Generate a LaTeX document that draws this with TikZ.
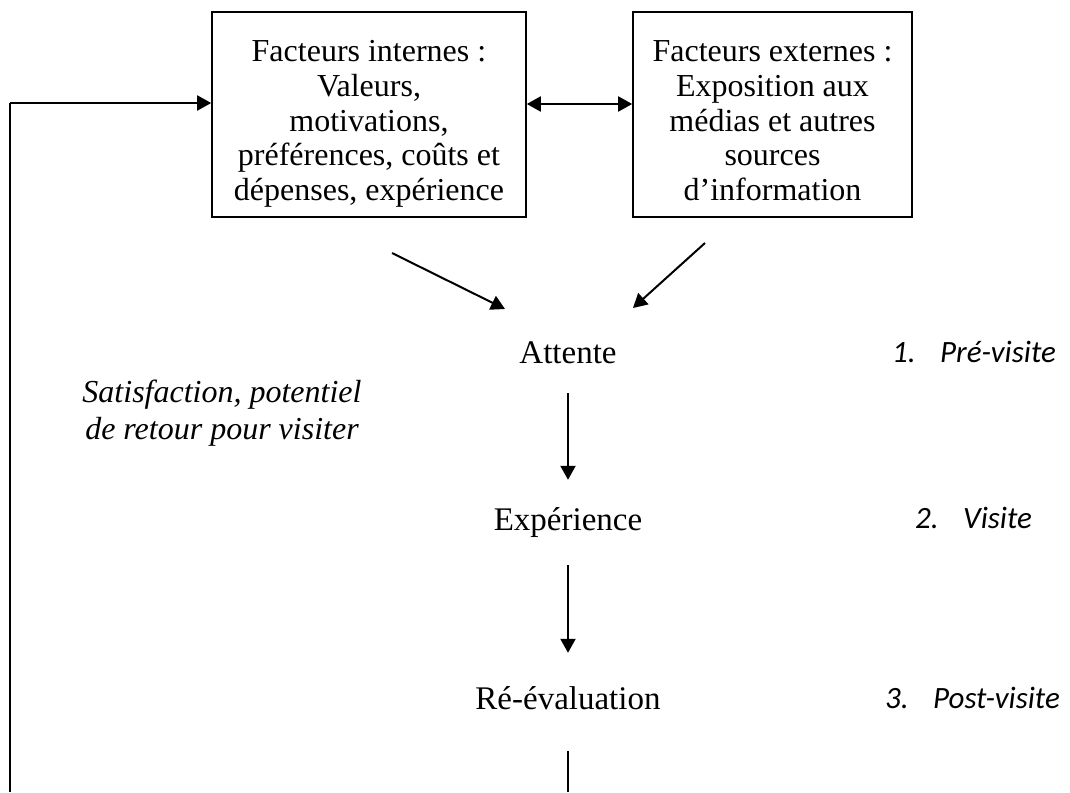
\documentclass[tikz,border=0pt]{standalone}
\usepackage{fontspec}
\setmainfont{Liberation Serif}
\newfontfamily\calib{Carlito}
\usetikzlibrary{arrows.meta}
\tikzset{
  tip/.tip={Triangle[length=14pt,width=15pt]},
  arr/.style={line width=2pt,-tip},
  dblarr/.style={line width=2pt,tip-tip},
  plain/.style={line width=2pt},
  factbox/.style={draw,line width=1.6pt,inner sep=0pt,font=\fontsize{32}{34.6}\selectfont},
  stagetxt/.style={font=\fontsize{33}{36}\selectfont,inner sep=0pt,text height=24pt,text depth=8pt,anchor=base},
  phase/.style={font=\calib\itshape\fontsize{31}{36}\selectfont,inner sep=0pt,anchor=base west}
}
\newcommand{\boxtext}[2]{\parbox[t][205pt][t]{#1}{\centering\rule{0pt}{50pt}#2}}
\newcommand{\num}[1]{\makebox[48pt][l]{#1}}
\begin{document}
\begin{tikzpicture}[x=1pt,y=-1pt]
\useasboundingbox (0,0) rectangle (1070,792);
\node[factbox] (int) at (369,114.5)
  {\boxtext{314pt}{Facteurs internes :\\Valeurs,\\motivations,\\préférences, coûts et\\dépenses, expérience}};
\node[factbox] (ext) at (772.5,114.5)
  {\boxtext{279pt}{Facteurs externes :\\Exposition aux\\médias et autres\\sources\\d’information}};
\node[stagetxt] (att) at (568,363) {Attente};
\node[stagetxt] (exp) at (568,530) {Expérience};
\node[stagetxt] (reev) at (568,709) {Ré-évaluation};
\node[phase] (p1) at (892,362) {\num{1.}Pré-visite};
\node[phase] (p2) at (915,528) {\num{2.}Visite};
\node[phase] (p3) at (885,708) {\num{3.}Post-visite};
\node[font=\itshape\fontsize{32}{37}\selectfont,align=center,inner sep=0pt,anchor=north] (sat) at (222,378)
  {\rule{0pt}{24pt}Satisfaction, potentiel\\de retour pour visiter};
% double arrow between boxes
\coordinate (mid) at (0,104);
\draw[dblarr] (int.east |- mid) -- (ext.west |- mid);
% converging arrows
\coordinate (s1) at (392,253);
\coordinate (e1) at (505,309);
\coordinate (s2) at (705,243);
\coordinate (e2) at (633,308);
\draw[arr] (s1) -- (e1);
\draw[arr] (s2) -- (e2);
% vertical chain
\draw[arr,shorten <=22pt,shorten >=26pt] (att.south) -- (exp.north);
\draw[arr,shorten <=27pt,shorten >=32pt] (exp.south) -- (reev.north);
\coordinate (bot) at (568,792);
\draw[plain,shorten <=34pt] (reev.south) -- (bot);
% feedback loop
\coordinate (fbb) at (10,792);
\coordinate (fb) at (10,103);
\draw[plain] (fbb) -- (fb);
\draw[arr] (fb) -- (fb -| int.west);
\end{tikzpicture}
\end{document}
